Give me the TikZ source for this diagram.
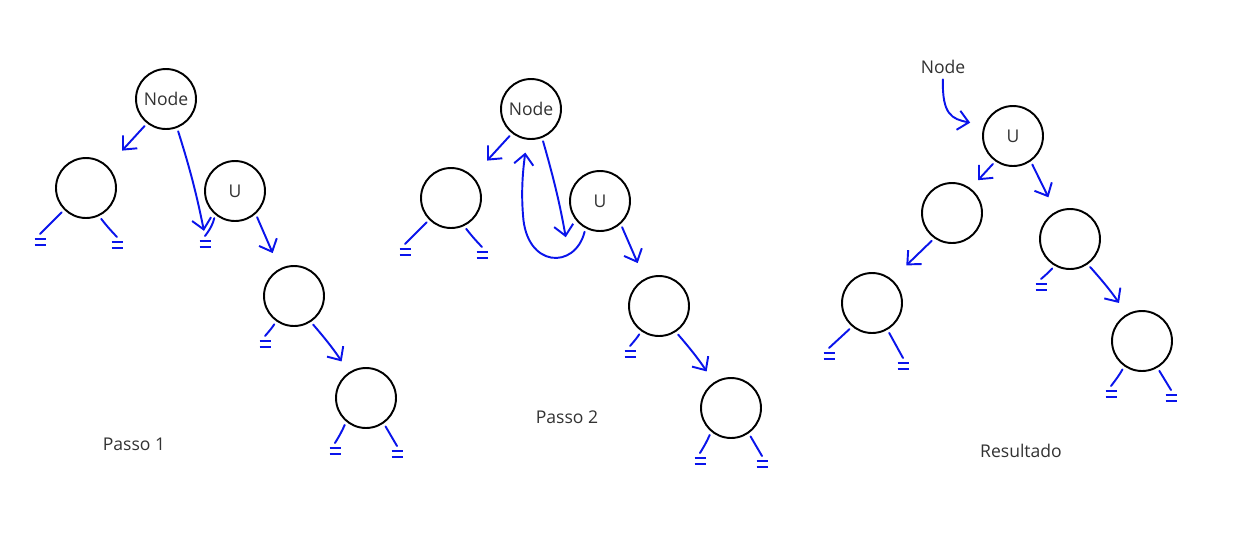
\documentclass[tikz,border=0pt]{standalone}
\usepackage{fontspec}
\setmainfont{Open Sans}
\usepackage{tikz}
\usetikzlibrary{arrows.meta}

\definecolor{inkblue}{RGB}{10,20,235}
\definecolor{txtgray}{RGB}{50,50,50}

\begin{document}
\begin{tikzpicture}[
  x=0.02cm, y=-0.02cm,
  font=\fontsize{10}{12}\selectfont,
  circ/.style={draw, circle, line width=1.1pt, minimum size=1.2cm, inner sep=0pt, text=txtgray},
  lbl/.style={text=txtgray, inner sep=1pt},
  link/.style={draw=inkblue, line width=1.1pt, line cap=round, shorten <=2pt},
  ptr/.style={link, -{Straight Barb[length=6pt,width=11pt,line width=1.1pt]}},
  pics/nil/.style={code={
    \draw[inkblue, line width=1.2pt] (-5.5,-3) -- (5.5,-3) (-5.5,3) -- (5.5,3);
    \coordinate (-top) at (0,-8);
  }}
]
% Page frame: same size as the picture, in pixel units
\useasboundingbox (0,0) rectangle (1251,545);

% ---------------- Passo 1 ----------------
\node[circ] (p1node) at (166,99) {Node};
\node[circ] (p1a) at (86,188) {};
\node[circ] (p1u) at (235,191) {U};
\node[circ] (p1c) at (294,296) {};
\node[circ] (p1d) at (366,398) {};
\node[lbl] (p1lbl) at (134,444) {Passo 1};

% empty subtrees
\pic (p1al) at (40,242) {nil};
\pic (p1ar) at (117,245) {nil};
\pic (p1ul) at (205,244) {nil};
\pic (p1cl) at (265,344) {nil};
\pic (p1dl) at (335,451) {nil};
\pic (p1dr) at (397,454) {nil};

% pointers
\draw[ptr, shorten >=0.42cm] (p1node.232) -- (p1a.45);
\draw[ptr, shorten >=3pt] (p1node.291) to[bend left=3] (p1ul-top);
\draw[ptr, shorten >=0.34cm] (p1u.-48) -- (p1c.118);
\draw[ptr, shorten >=0.26cm] (p1c.-57) to[bend left=4] (p1d.124);
\draw[link] (p1a.225) -- (p1al-top);
\draw[link] (p1a.-65) to[bend right=3] (p1ar-top);
\draw[link] (p1u.-130) to[bend left=12] (p1ul-top);
\draw[link] (p1c.-125) to[bend left=4] (p1cl-top);
\draw[link] (p1d.-130) to[bend left=4] (p1dl-top);
\draw[link] (p1d.-55) -- (p1dr-top);

% ---------------- Passo 2 ----------------
\node[circ] (p2node) at (531,109) {Node};
\node[circ] (p2a) at (451,198) {};
\node[circ] (p2u) at (600,201) {U};
\node[circ] (p2c) at (659,306) {};
\node[circ] (p2d) at (731,408) {};
\node[lbl] (p2lbl) at (567,417) {Passo 2};
\coordinate (p2gap) at (568,250);

\pic (p2al) at (405,252) {nil};
\pic (p2ar) at (482,255) {nil};
\pic (p2cl) at (630,354) {nil};
\pic (p2dl) at (700,461) {nil};
\pic (p2dr) at (762,464) {nil};

\draw[ptr, shorten >=0.42cm] (p2node.232) -- (p2a.45);
\draw[ptr, shorten >=0.26cm] (p2node.291) to[bend left=3] (p2gap);
\draw[ptr, shorten >=0.26cm] (p2u.-118) .. controls (575,270) and (526,268) .. (523,215)
  .. controls (521,190) and (523,170) .. (p2node);
\draw[ptr, shorten >=0.34cm] (p2u.-48) -- (p2c.118);
\draw[ptr, shorten >=0.26cm] (p2c.-57) to[bend left=4] (p2d.124);
\draw[link] (p2a.225) -- (p2al-top);
\draw[link] (p2a.-65) to[bend right=3] (p2ar-top);
\draw[link] (p2c.-125) to[bend left=4] (p2cl-top);
\draw[link] (p2d.-130) to[bend left=4] (p2dl-top);
\draw[link] (p2d.-55) -- (p2dr-top);

% ---------------- Resultado ----------------
\node[lbl] (rtop) at (943,67) {Node};
\node[circ] (ru) at (1013,136) {U};
\node[circ] (rl) at (952,213) {};
\node[circ] (rll) at (872,303) {};
\node[circ] (rr) at (1070,239) {};
\node[circ] (rrr) at (1142,341) {};
\node[lbl] (rlbl) at (1021,451) {Resultado};

\pic (rlll) at (829,356) {nil};
\pic (rllr) at (903,366) {nil};
\pic (rrl) at (1041,287) {nil};
\pic (rrrl) at (1111,394) {nil};
\pic (rrrr) at (1171,398) {nil};

\draw[ptr, shorten >=0.28cm] (rtop.south) .. controls (942,115) and (952,119) .. (ru.160);
\draw[ptr, shorten >=0.22cm] (ru.-125) -- (rl.53);
\draw[ptr, shorten >=0.32cm] (ru.-55) -- (rr.118);
\draw[ptr, shorten >=0.4cm] (rl.-125) -- (rll.50);
\draw[ptr, shorten >=0.27cm] (rr.-55) to[bend left=4] (rrr.120);
\draw[link] (rll.-130) -- (rlll-top);
\draw[link] (rll.-60) -- (rllr-top);
\draw[link] (rr.-120) to[bend left=4] (rrl-top);
\draw[link] (rrr.-125) to[bend left=4] (rrrl-top);
\draw[link] (rrr.-60) -- (rrrr-top);

\end{tikzpicture}
\end{document}
